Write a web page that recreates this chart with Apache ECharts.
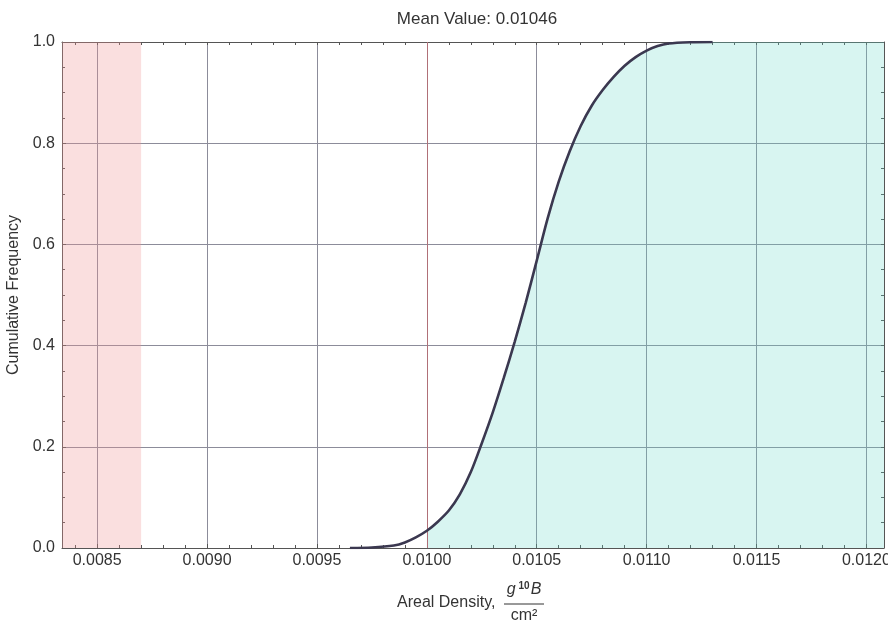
<!DOCTYPE html>
<html>
<head>
<meta charset="utf-8">
<title>Cumulative Frequency</title>
<script src="https://cdn.jsdelivr.net/npm/echarts@6/dist/echarts.min.js"></script>
<style>
  html, body { margin: 0; padding: 0; background: #fff; }
  #chart { width: 888px; height: 624px; }
</style>
</head>
<body>
<div id="chart"></div>
<script>
// values
const densityX = [0.00965, 0.00975, 0.00985, 0.00990, 0.00995, 0.01000, 0.01005, 0.01010,
  0.01015, 0.01020, 0.01025, 0.01030, 0.01035, 0.01040, 0.01045, 0.01050, 0.01055, 0.01060,
  0.01065, 0.01070, 0.01075, 0.01080, 0.01085, 0.01090, 0.01095, 0.01100, 0.01105, 0.01110,
  0.01120, 0.01130]
const cumFreq = [0.000, 0.001, 0.005, 0.011, 0.021, 0.034, 0.052, 0.074,
  0.106, 0.150, 0.207, 0.268, 0.336, 0.408, 0.485, 0.568, 0.652, 0.724,
  0.784, 0.834, 0.874, 0.905, 0.931, 0.953, 0.970, 0.983, 0.992, 0.997,
  0.9995, 1.000]
const xMajorTicks = [0.0085, 0.0090, 0.0095, 0.0100, 0.0105, 0.0110, 0.0115, 0.0120]
const xMinorTicks = []
for (let i = 84; i <= 120; i++) xMinorTicks.push(i / 10000)
const xMin = 0.00834
const xMax = 0.01208
const lowBand = [xMin, 0.0087]
const fillFrom = 0.0100
const meanValue = '0.01046'

const font = 'Liberation Sans, Arial, sans-serif'
const frameColor = '#555'
const gridColor = '#8c8c9a'

const curve = densityX.map((x, i) => [x, cumFreq[i]])
const fillData = curve.filter(p => p[0] >= fillFrom)
fillData.push([xMax, 1])

const chart = echarts.init(document.getElementById('chart'))
const options = {
  animation: false,
  backgroundColor: '#fff',
  title: {
    text: 'Mean Value: ' + meanValue,
    left: 472,
    top: 6,
    textAlign: 'center',
    textStyle: { fontFamily: font, fontSize: 17, fontWeight: 'normal', color: '#333' }
  },
  grid: { left: 62, right: 4, top: 42, bottom: 76, outerBoundsMode: 'none' },
  xAxis: [
    {
      type: 'value', min: xMin, max: xMax, position: 'bottom',
      axisLine: { onZero: false, lineStyle: { color: frameColor } },
      axisTick: { inside: true, length: 4, customValues: xMajorTicks, lineStyle: { color: frameColor } },
      axisLabel: {
        customValues: xMajorTicks, margin: 5,
        formatter: v => v.toFixed(4),
        fontFamily: font, fontSize: 16, color: '#333'
      },
      splitLine: { show: true, lineStyle: { color: gridColor, width: 1 } }
    },
    {
      type: 'value', min: xMin, max: xMax, position: 'bottom',
      axisLine: { show: false, onZero: false },
      axisTick: { inside: true, length: 3, customValues: xMinorTicks, lineStyle: { color: frameColor } },
      axisLabel: { show: false },
      splitLine: { show: false }
    },
    {
      type: 'value', min: xMin, max: xMax, position: 'top',
      axisLine: { onZero: false, lineStyle: { color: frameColor } },
      axisTick: { inside: true, length: 3, customValues: xMinorTicks, lineStyle: { color: frameColor } },
      axisLabel: { show: false },
      splitLine: { show: false }
    }
  ],
  yAxis: [
    {
      type: 'value', min: 0, max: 1, interval: 0.2, position: 'left',
      name: 'Cumulative Frequency', nameLocation: 'middle', nameGap: 36,
      nameTextStyle: { fontFamily: font, fontSize: 16, color: '#333' },
      axisLine: { show: true, lineStyle: { color: frameColor } },
      axisTick: { inside: true, length: 4, lineStyle: { color: frameColor } },
      minorTick: { show: true, splitNumber: 4, length: 3, lineStyle: { color: frameColor } },
      axisLabel: { margin: 7, formatter: v => v.toFixed(1), fontFamily: font, fontSize: 16, color: '#333' },
      splitLine: { show: true, lineStyle: { color: gridColor, width: 1 } }
    },
    {
      type: 'value', min: 0, max: 1, interval: 0.05, position: 'right',
      axisLine: { show: true, lineStyle: { color: frameColor } },
      axisTick: { inside: true, length: 3, lineStyle: { color: frameColor } },
      axisLabel: { show: false },
      splitLine: { show: false }
    }
  ],
  graphic: [
    {
      type: 'text', x: 397, y: 603,
      style: { text: 'Areal Density,', fontFamily: font, fontSize: 16, fill: '#333', verticalAlign: 'middle' }
    },
    {
      type: 'text', x: 524, y: 590,
      style: {
        text: '{i|g}{s|10}{i|B}', align: 'center', verticalAlign: 'middle', fill: '#333',
        rich: {
          i: { fontFamily: font, fontSize: 16, fontStyle: 'italic', lineHeight: 18, fill: '#333' },
          s: { fontFamily: font, fontSize: 10, fontWeight: 'bold', verticalAlign: 'top', lineHeight: 18, padding: [0, 1, 0, 3], fill: '#333' }
        }
      }
    },
    {
      type: 'line', shape: { x1: 504, y1: 604, x2: 544, y2: 604 },
      style: { stroke: '#333', lineWidth: 1 }
    },
    {
      type: 'text', x: 524, y: 616,
      style: { text: 'cm²', align: 'center', verticalAlign: 'middle', fontFamily: font, fontSize: 16, fill: '#333' }
    }
  ],
  series: [
    {
      name: 'fill',
      type: 'line',
      data: fillData,
      smooth: 0.3,
      symbol: 'none',
      silent: true,
      z: 2,
      lineStyle: { width: 0, opacity: 0 },
      areaStyle: { color: 'rgba(100, 215, 200, 0.25)', opacity: 1 }
    },
    {
      name: 'Cumulative Frequency',
      type: 'line',
      data: curve,
      smooth: 0.3,
      symbol: 'none',
      z: 5,
      lineStyle: { color: '#3b3850', width: 2.6 },
      markArea: {
        silent: true,
        itemStyle: { color: 'rgba(240, 150, 150, 0.3)' },
        data: [[{ xAxis: lowBand[0] }, { xAxis: lowBand[1] }]]
      },
      markLine: {
        silent: true,
        symbol: 'none',
        label: { show: false },
        lineStyle: { color: '#b07078', type: 'solid', width: 1 },
        data: [{ xAxis: xMajorTicks[0] }]
      }
    }
  ]
}
chart.setOption(options)
window.addEventListener('resize', () => {
  chart.resize()
})
</script>
</body>
</html>
